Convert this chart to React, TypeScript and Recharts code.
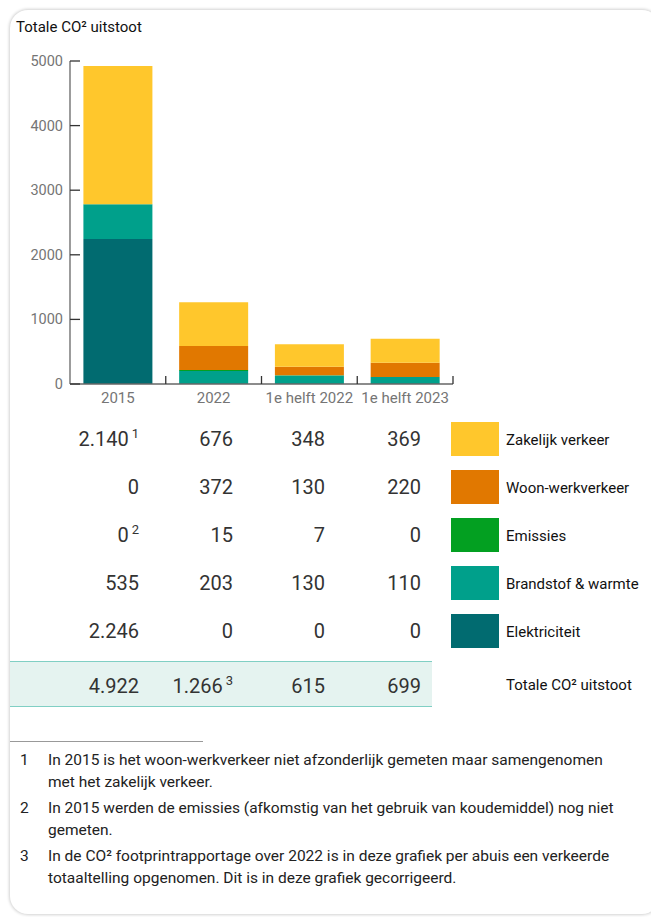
import React from "react";
import { BarChart, Bar, XAxis, YAxis } from "recharts";

const categories = ["2015", "2022", "1e helft 2022", "1e helft 2023"];
const zakelijk = [2140, 676, 348, 369];
const woonWerk = [0, 372, 130, 220];
const emissies = [0, 15, 7, 0];
const brandstof = [535, 203, 130, 110];
const elektriciteit = [2246, 0, 0, 0];
const totals = [4922, 1266, 615, 699];
const yTicks = [0, 1000, 2000, 3000, 4000, 5000];

const series = [
  { key: "zakelijk", name: "Zakelijk verkeer", values: zakelijk, color: "#FFC72C", notes: ["1", "", "", ""] },
  { key: "woonWerk", name: "Woon-werkverkeer", values: woonWerk, color: "#E17800", notes: ["", "", "", ""] },
  { key: "emissies", name: "Emissies", values: emissies, color: "#03A021", notes: ["2", "", "", ""] },
  { key: "brandstof", name: "Brandstof & warmte", values: brandstof, color: "#00A08B", notes: ["", "", "", ""] },
  { key: "elektriciteit", name: "Elektriciteit", values: elektriciteit, color: "#016B70", notes: ["", "", "", ""] },
];
const totalNotes = ["", "3", "", ""];

const footnotes = [
  "In 2015 is het woon-werkverkeer niet afzonderlijk gemeten maar samengenomen met het zakelijk verkeer.",
  "In 2015 werden de emissies (afkomstig van het gebruik van koudemiddel) nog niet gemeten.",
  "In de CO² footprintrapportage over 2022 is in deze grafiek per abuis een verkeerde totaaltelling opgenomen. Dit is in deze grafiek gecorrigeerd.",
];

const data = categories.map((name, i) => ({
  name,
  elektriciteit: elektriciteit[i],
  brandstof: brandstof[i],
  emissies: emissies[i],
  woonWerk: woonWerk[i],
  zakelijk: zakelijk[i],
}));

// stacked bottom to top
const stackOrder = [...series].reverse();

const fmt = (n: number) => String(n).replace(/\B(?=(\d{3})+(?!\d))/g, ".");

const FONT = "Roboto, 'Noto Sans', sans-serif";
const CHART_W = 450;
const MARGIN = { top: 21, right: 7, left: 10, bottom: 0 };
const Y_W = 50;
const BAND = (CHART_W - MARGIN.left - MARGIN.right - Y_W) / categories.length;

const YTick = (props: any) => {
  const { x, y, payload } = props;
  return (
    <g>
      <line x1={x} x2={x + 10} y1={y} y2={y} stroke="#333" strokeWidth={1.3} />
      <text x={x - 7} y={y} dy={5} textAnchor="end" fill="#757575" fontSize={14.5} fontFamily={FONT}>
        {payload.value}
      </text>
    </g>
  );
};

const XTick = (props: any) => {
  const { x, y, payload } = props;
  const bx = x + BAND / 2;
  return (
    <g>
      <line x1={bx} x2={bx} y1={y - 8} y2={y} stroke="#333" strokeWidth={1.3} />
      <text x={x} y={y + 19} textAnchor="middle" fill="#757575" fontSize={15} fontFamily={FONT}>
        {payload.value}
      </text>
    </g>
  );
};

const colRight = [139, 233, 325, 421];
const rowY = [439, 487, 535, 583, 631];
const totalY = 686;

const Cell = ({ value, note, right, cy }: { value: string; note: string; right: number; cy: number }) => (
  <div
    style={{
      position: "absolute",
      left: right - 110,
      top: cy - 12,
      width: 110,
      textAlign: "right",
      fontSize: 20,
      lineHeight: "24px",
      color: "#333",
      whiteSpace: "nowrap",
    }}
  >
    {value}
    {note && (
      <span style={{ fontSize: 13, position: "relative", top: -8, marginLeft: 3 }}>{note}</span>
    )}
  </div>
);

export default function App() {
  return (
    <div style={{ position: "absolute", left: 0, top: 0, width: 651, height: 917, fontFamily: FONT, overflow: "hidden" }}>
      <div
        style={{
          position: "absolute",
          left: 10,
          top: 10,
          width: 650,
          height: 904,
          borderRadius: 18,
          background: "#fff",
          boxShadow: "0 0 3px 1px rgba(0,0,0,0.18)",
        }}
      />
      <div style={{ position: "absolute", left: 16, top: 18, fontSize: 15, color: "#111", lineHeight: "18px" }}>
        Totale CO² uitstoot
      </div>

      <div style={{ position: "absolute", left: 10, top: 40 }}>
        <BarChart width={CHART_W} height={374} data={data} margin={MARGIN} barCategoryGap="14%">
          <XAxis
            dataKey="name"
            height={30}
            tickSize={0}
            tickMargin={0}
            tickLine={false}
            axisLine={{ stroke: "#666", strokeWidth: 1.3 }}
            tick={<XTick />}
            interval={0}
          />
          <YAxis
            width={Y_W}
            domain={[0, 5000]}
            ticks={yTicks}
            tickSize={0}
            tickMargin={0}
            tickLine={false}
            axisLine={{ stroke: "#666", strokeWidth: 1.3 }}
            tick={<YTick />}
          />
          {stackOrder.map((s) => (
            <Bar key={s.key} dataKey={s.key} name={s.name} stackId="a" fill={s.color} isAnimationActive={false} />
          ))}
        </BarChart>
      </div>

      {series.map((s, r) => (
        <React.Fragment key={s.key}>
          {s.values.map((v, c) => (
            <Cell key={c} value={fmt(v)} note={s.notes[c]} right={colRight[c]} cy={rowY[r]} />
          ))}
          <div style={{ position: "absolute", left: 451, top: rowY[r] - 17, width: 48, height: 34, background: s.color }} />
          <div style={{ position: "absolute", left: 506, top: rowY[r] - 8, fontSize: 15, lineHeight: "18px", color: "#111" }}>
            {s.name}
          </div>
        </React.Fragment>
      ))}

      <div
        style={{
          position: "absolute",
          left: 10,
          top: 661,
          width: 422,
          height: 44,
          background: "#E5F3F0",
          borderTop: "1.5px solid #80CFC4",
          borderBottom: "1.5px solid #80CFC4",
        }}
      />
      {totals.map((v, c) => (
        <Cell key={c} value={fmt(v)} note={totalNotes[c]} right={colRight[c]} cy={totalY} />
      ))}
      <div style={{ position: "absolute", left: 506, top: totalY - 10, fontSize: 15, lineHeight: "18px", color: "#111" }}>
        Totale CO² uitstoot
      </div>

      <div style={{ position: "absolute", left: 10, top: 741, width: 193, height: 1, background: "#999" }} />
      <div style={{ position: "absolute", left: 10, top: 749, width: 613 }}>
        {footnotes.map((t, i) => (
          <div key={i} style={{ display: "flex", fontSize: 15.5, lineHeight: "22px", color: "#222", marginBottom: 4 }}>
            <div style={{ width: 28, paddingLeft: 10, flexShrink: 0 }}>{i + 1}</div>
            <div style={{ flex: 1 }}>{t}</div>
          </div>
        ))}
      </div>
    </div>
  );
}
